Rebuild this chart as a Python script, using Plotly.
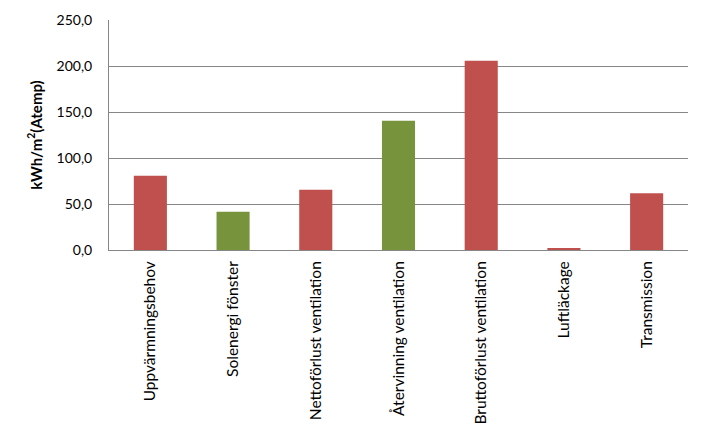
import plotly.graph_objects as go

categories = ["Uppvärmningsbehov", "Solenergi fönster", "Nettoförlust ventilation",
              "Återvinning ventilation", "Bruttoförlust ventilation", "Luftläckage",
              "Transmission"]
values = [80.8, 41.7, 65.6, 140.6, 205.8, 1.4, 61.6]
bar_colors = ["#C0504D", "#77933C", "#C0504D", "#77933C", "#C0504D", "#C0504D", "#C0504D"]
y_ticks = [0, 50, 100, 150, 200, 250]

font = "Lato, 'Open Sans', sans-serif"

fig = go.Figure(go.Bar(x=categories, y=values, marker=dict(color=bar_colors, line=dict(width=0))))

# the page body adds 8px around the plot div, so size and margins are reduced by that
fig.update_layout(
    width=700, height=437,
    margin=dict(l=101, r=20, t=12, b=195),
    plot_bgcolor="white", paper_bgcolor="white",
    bargap=0.6, showlegend=False,
    separators=", ",
    font=dict(family=font, size=14, color="black"),
)
fig.update_xaxes(
    tickangle=-90, showline=True, linecolor="#868686", linewidth=1,
    tickfont=dict(family=font, size=15.5, color="black"),
    ticks="outside", ticklen=4, tickcolor="white",
    showgrid=False, automargin=False,
)
fig.update_yaxes(
    range=[0, 250], tickvals=y_ticks, tickformat=".1f",
    showgrid=True, gridcolor="#868686", gridwidth=1,
    showline=True, linecolor="#868686", linewidth=1,
    zeroline=False, ticks="outside", ticklen=13, tickcolor="white",
    tickfont=dict(family=font, size=14, color="black"),
    title=dict(text="<b>kWh/m<sup>2</sup>(Atemp)</b>", standoff=10,
               font=dict(family=font, size=15, color="black")),
    automargin=False,
)

fig.write_html("out.html")
